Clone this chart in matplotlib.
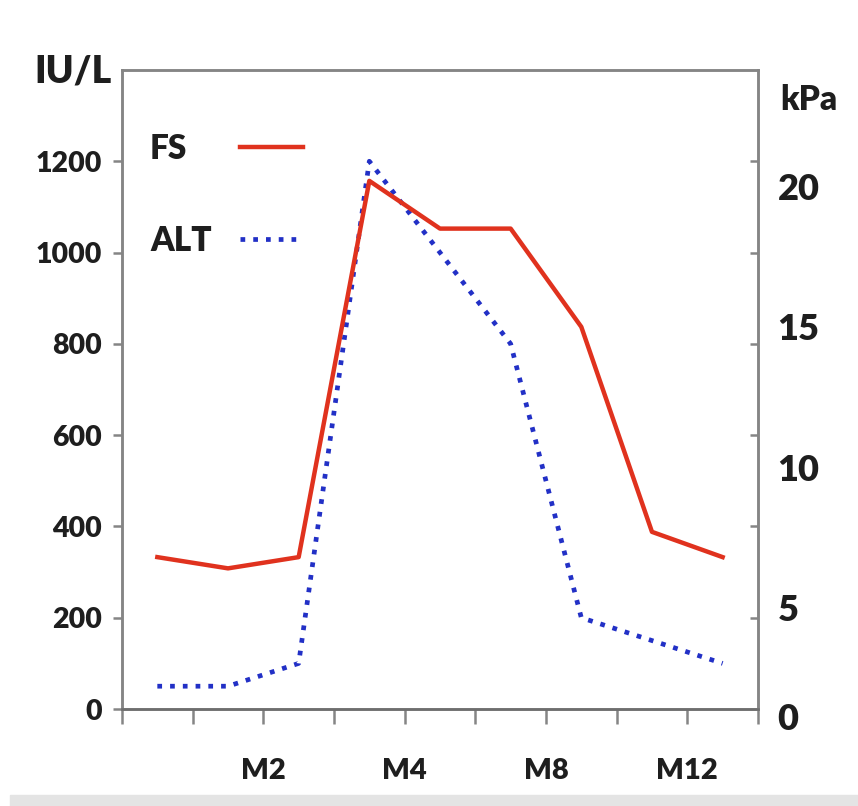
import numpy as np
import matplotlib.pyplot as plt
from matplotlib.patches import Rectangle

# data
visits = np.arange(9)
alt_iu = [50, 50, 100, 1200, 1000, 800, 200, 150, 100]
fs_kpa = [6.8, 6.4, 6.8, 20.2, 18.5, 18.5, 15.0, 7.7, 6.8]
month_labels = ["M2", "M4", "M8", "M12"]
iu_ticks = [0, 200, 400, 600, 800, 1000, 1200]
kpa_ticks = [5, 10, 15, 20]

plt.rcParams['font.family'] = ['Lato', 'DejaVu Sans']
plt.rcParams['font.weight'] = 'heavy'
plt.rcParams['axes.labelweight'] = 'heavy'
txt = '#1e1e1e'
gray = '#858585'

fig = plt.figure(figsize=(8.58, 8.06), dpi=100)
ax = fig.add_axes([0.1422, 0.1203, 0.7412, 0.7929])
ax2 = ax.twinx()

alt_line, = ax.plot(visits, alt_iu, color='#2230c6', lw=3.4, ls=(0, (1, 1.7)))
fs_line, = ax2.plot(visits, fs_kpa, color='#e0321e', lw=3.2)

ax.set_xlim(-0.5, 8.5)
ax.set_ylim(0, 1400)
kpa_lo, kpa_hi = 1.39, 24.15
ax2.set_ylim(kpa_lo, kpa_hi)

# x axis: ticks between visits, month labels on every second one
ax.set_xticks(np.arange(-0.5, 9, 1), minor=True)
ax.set_xticks([1.5, 3.5, 5.5, 7.5])
ax.set_xticklabels(month_labels)
ax.tick_params(axis='x', which='both', length=11, width=1.8, color=gray,
               direction='out', pad=24, labelsize=21, labelcolor=txt)

ax.set_yticks(iu_ticks)
ax.tick_params(axis='y', length=6.5, width=1.8, color=gray, direction='out',
               pad=8, labelsize=20.5, labelcolor=txt)

ax2.set_yticks(kpa_ticks)
ax2.set_yticks([kpa_lo + v / 1400 * (kpa_hi - kpa_lo) for v in iu_ticks], minor=True)
ax2.tick_params(axis='y', which='major', length=0, pad=14, labelsize=26, labelcolor=txt)
ax2.tick_params(axis='y', which='minor', length=6, width=1.8, color=gray, direction='in')
ax2.text(1.031, -0.017, "0", transform=ax.transAxes, ha='left', va='center',
         fontsize=26, color=txt)

for a in (ax, ax2):
    for s in a.spines.values():
        s.set_color(gray)
        s.set_linewidth(1.8)
    a.spines['bottom'].set_color('#6e6e6e')

ax.set_ylabel('IU/L', rotation=0, fontsize=27, ha='right', va='center', color=txt)
ax.yaxis.set_label_coords(-0.016, 0.997)
ax2.set_ylabel('kPa', rotation=0, fontsize=24, ha='left', va='center', color=txt)
ax2.yaxis.set_label_coords(1.035, 0.953)

leg = ax2.legend([fs_line, alt_line], ['FS', 'ALT'], loc='upper left',
                 bbox_to_anchor=(0.044, 0.902), frameon=False, markerfirst=False,
                 fontsize=24, handlelength=1.9, handletextpad=0.85, labelspacing=1.8,
                 borderaxespad=0, borderpad=0, labelcolor=txt)

# left-align the legend texts (matplotlib right-aligns them when markerfirst=False)
fig.canvas.draw()
r = fig.canvas.get_renderer()
t_fs, t_alt = leg.get_texts()
t_fs.set_x(-(t_alt.get_window_extent(r).width - t_fs.get_window_extent(r).width))

fig.patches.append(Rectangle((0.012, 0), 0.988, 0.0136, transform=fig.transFigure,
                             color='#e4e4e4', zorder=0))

fig.savefig('out.png', dpi=100)
